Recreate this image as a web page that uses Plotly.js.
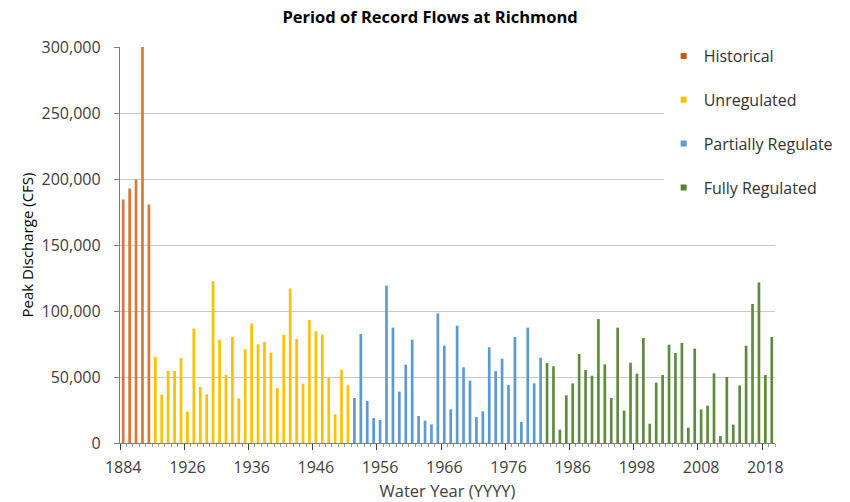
<!DOCTYPE html>
<html>
<head>
<meta charset="utf-8">
<script src="https://cdn.plot.ly/plotly-3.0.1.min.js"></script>
<style>html,body{margin:0;padding:0;background:#fff;}#chart{width:850px;height:502px;}</style>
</head>
<body>
<div id="chart"></div>
<script>
// ---- data ----
const histYears = ["1884","1899","1900","1913","1915"];
const histPeak = [184500, 192800, 199600, 300000, 180700];

const unregYears = ["1921","1922","1923","1924","1925","1926","1927","1928","1929","1930",
  "1931","1932","1933","1934","1935","1936","1937","1938","1939","1940",
  "1941","1942","1943","1944","1945","1946","1947","1948","1949","1950","1951"];
const unregPeak = [65200, 36600, 54600, 54600, 64400, 23800, 86700, 42500, 36900, 122600,
  78300, 51600, 80400, 33900, 71000, 90500, 74800, 76600, 68500, 41700,
  81900, 117000, 78800, 44900, 93200, 84600, 82300, 49700, 21700, 55300, 43700];

const partYears = ["1952","1953","1954","1955","1956","1957","1958","1959","1960","1961",
  "1962","1963","1964","1965","1966","1967","1968","1969","1970","1971",
  "1972","1973","1974","1975","1976","1977","1978","1979","1980","1981"];
const partPeak = [34100, 82600, 31800, 18900, 17400, 119200, 87400, 38900, 59300, 78300,
  20500, 16900, 14100, 98200, 73700, 25500, 88900, 57300, 47200, 19700,
  24000, 72500, 54500, 63900, 43900, 80300, 15900, 87400, 45200, 64600];

const fullYears = ["1982","1983","1984","1985","1986","1987","1988","1989","1992","1993",
  "1994","1995","1996","1997","1998","1999","2000","2001","2002","2003",
  "2004","2005","2006","2007","2008","2009","2010","2011","2012","2013",
  "2014","2015","2016","2017","2018","2019"];
const fullPeak = [60600, 58100, 10100, 36100, 45200, 67400, 55300, 51000, 93900, 59600,
  34100, 87400, 24500, 60900, 52500, 79500, 14600, 45700, 51500, 74500,
  68200, 75800, 11600, 71500, 25300, 28300, 52800, 5300, 50000, 13900,
  43700, 73700, 105300, 121700, 51500, 80300];

const tickYears = ["1884","1926","1936","1946","1956","1966","1976","1986","1998","2008","2018"];

const seriesNames = ["Historical", "Unregulated", "Partially Regulate", "Fully Regulated"];
const barColors = ["#D8783A", "#FFC000", "#5B9BD5", "#5E8C3E"];
const legendColors = ["#C55A11", "#FFC000", "#5B9BD5", "#548235"];

// ---- build ----
const allYears = histYears.concat(unregYears, partYears, fullYears);
const yearSets = [histYears, unregYears, partYears, fullYears];
const peakSets = [histPeak, unregPeak, partPeak, fullPeak];

const traces = [];
yearSets.forEach((ys, i) => {
  traces.push({
    type: "bar", x: ys, y: peakSets[i], name: seriesNames[i],
    marker: {color: barColors[i], line: {width: 0}},
    width: 0.42, showlegend: false, hoverinfo: "x+y"
  });
});
seriesNames.forEach((n, i) => {
  traces.push({
    type: "scatter", mode: "markers", x: [null], y: [null], name: n,
    legendgroup: "g" + i,
    marker: {symbol: "square", size: 6, color: legendColors[i]},
    hoverinfo: "skip"
  });
});
// carrier for the category tick marks axis
traces.push({type: "scatter", mode: "markers", x: [], y: [], xaxis: "x2", showlegend: false, hoverinfo: "skip"});

const nCat = allYears.length;
const font = "'Open Sans', 'Noto Sans', sans-serif";

const layout = {
  width: 850, height: 502,
  margin: {l: 120, r: 71, t: 47, b: 59},
  paper_bgcolor: "#fff", plot_bgcolor: "#fff",
  barmode: "overlay",
  font: {family: font, color: "#404040", size: 15},
  title: {text: "<b>Period of Record Flows at Richmond</b>", x: 0.506, xanchor: "center", y: 0.966, yanchor: "middle",
          font: {family: font, size: 16.5, color: "#000"}},
  xaxis: {
    type: "category", categoryorder: "array", categoryarray: allYears,
    range: [-0.5, nCat - 0.5], tickmode: "array", tickvals: tickYears, ticktext: tickYears,
    ticks: "", showline: true, linecolor: "#7f7f7f", linewidth: 1.2, showgrid: false,
    tickfont: {size: 16, color: "#404040"}, ticklabelstandoff: 10,
    title: {text: "Water Year (YYYY)", font: {size: 16.5, color: "#404040"}, standoff: 8},
    fixedrange: true, automargin: false
  },
  xaxis2: {
    type: "linear", overlaying: "x", anchor: "y", side: "bottom",
    range: [-0.5, nCat - 0.5], tickmode: "linear", tick0: -0.5, dtick: 10,
    ticks: "outside", ticklen: 6, tickcolor: "#404040", tickwidth: 1,
    minor: {ticks: "outside", dtick: 1, tick0: -0.5, ticklen: 3, tickcolor: "#9a9a9a", showgrid: false},
    showticklabels: false, showgrid: false, showline: false, zeroline: false, fixedrange: true
  },
  yaxis: {
    range: [0, 300000], dtick: 50000, tick0: 0, tickformat: ",d",
    showgrid: true, gridcolor: "#c8c8c8", gridwidth: 1, zeroline: false,
    showline: true, linecolor: "#7f7f7f", linewidth: 1.2,
    ticks: "outside", ticklen: 5, tickcolor: "#7f7f7f",
    tickfont: {size: 16, color: "#404040"}, ticklabelstandoff: 10,
    title: {text: "Peak Discharge (CFS)", font: {size: 15, color: "#000"}, standoff: 4},
    fixedrange: true, automargin: false
  },
  legend: {
    x: 0.83, xanchor: "left", y: 1.02, yanchor: "top",
    bgcolor: "rgba(255,255,255,1)", borderwidth: 0,
    font: {size: 16, color: "#333"}, tracegroupgap: 20, itemwidth: 30
  },
  showlegend: true
};

Plotly.newPlot("chart", traces, layout, {displayModeBar: false, staticPlot: true});
</script>
</body>
</html>
